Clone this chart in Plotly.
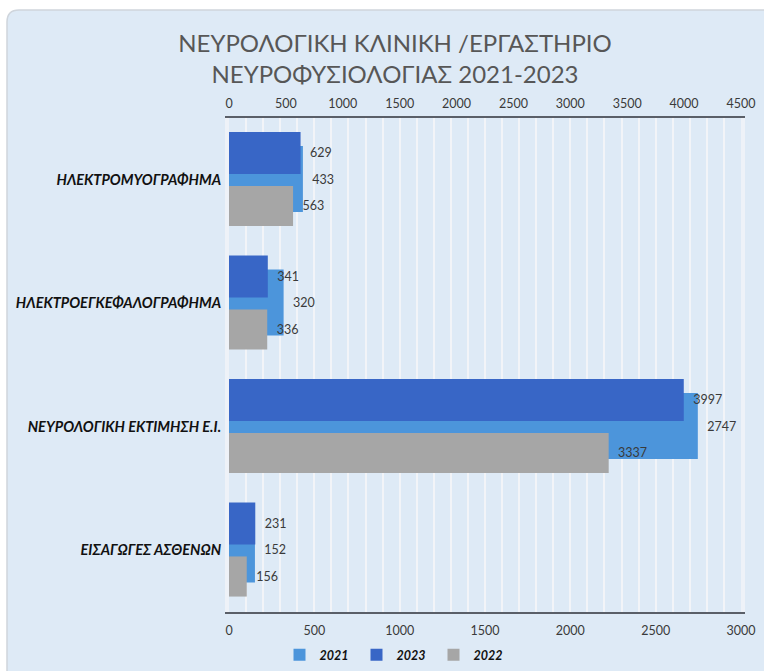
import plotly.graph_objects as go

# categories top -> bottom as in the picture
categories = [
    "ΗΛΕΚΤΡΟΜΥΟΓΡΑΦΗΜΑ",
    "ΗΛΕΚΤΡΟΕΓΚΕΦΑΛΟΓΡΑΦΗΜΑ",
    "ΝΕΥΡΟΛΟΓΙΚΗ ΕΚΤΙΜΗΣΗ Ε.Ι.",
    "ΕΙΣΑΓΩΓΕΣ ΑΣΘΕΝΩΝ",
]
values_2021 = [433, 320, 2747, 152]   # bottom axis (0-3000)
values_2023 = [629, 341, 3997, 231]   # top axis (0-4500)
values_2022 = [563, 336, 3337, 156]   # top axis (0-4500)

bottom_ticks = [0, 500, 1000, 1500, 2000, 2500, 3000]
top_ticks = [0, 500, 1000, 1500, 2000, 2500, 3000, 3500, 4000, 4500]

LIGHT = "#4c95db"
DARK = "#3866c6"
GRAY = "#a6a6a6"
WALL = "#a9b4c6"
PANEL = "#deeaf6"
INK = "#3a3a3a"
FONT = "Lato, 'Open Sans', sans-serif"

W, H = 764, 671
L, R, T, B = 229, 741, 118, 612


def px(x):
    return (x - L) / (R - L)


def py(y):
    return (B - y) / (B - T)


label_font = dict(family=FONT, size=12.5, color=INK)
nb = "\u00a0\u00a0"

fig = go.Figure()
fig.add_trace(go.Bar(
    name="2021", y=categories, x=values_2021, orientation="h",
    xaxis="x", marker=dict(color=LIGHT, line=dict(width=0)),
    width=0.535, offset=-0.262,
    text=values_2021, texttemplate=nb + "%{x}", textposition="outside",
    textfont=label_font, cliponaxis=False,
))
fig.add_trace(go.Bar(
    name="2023", y=categories, x=values_2023, orientation="h",
    xaxis="x2", marker=dict(color=DARK, line=dict(width=0)),
    width=0.34, offset=0.047,
    text=values_2023, texttemplate=nb + "%{x}", textposition="outside",
    textfont=label_font, cliponaxis=False,
))
fig.add_trace(go.Bar(
    name="2022", y=categories, x=values_2022, orientation="h",
    xaxis="x2", marker=dict(color=GRAY, line=dict(width=0)),
    width=0.325, offset=-0.375,
    text=values_2022, texttemplate=nb + "%{x}", textposition="outside",
    textfont=label_font, cliponaxis=False,
))

# rounded light-blue chart panel
x0, x1, y0, y1 = px(7), px(780), py(680), py(10)
rx, ry = 12 / (R - L), 12 / (B - T)
panel = (f"M {x0},{y0} L {x0},{y1 - ry} Q {x0},{y1} {x0 + rx},{y1} "
         f"L {x1},{y1} L {x1},{y0} Z")

fig.update_layout(
    width=W, height=H,
    margin=dict(l=L, r=W - R, t=T, b=H - B, autoexpand=False),
    paper_bgcolor="white",
    plot_bgcolor=WALL,
    barmode="overlay",
    font=dict(family=FONT, color=INK, size=12),
    title=dict(
        text="ΝΕΥΡΟΛΟΓΙΚΗ ΚΛΙΝΙΚΗ /ΕΡΓΑΣΤΗΡΙΟ<br>ΝΕΥΡΟΦΥΣΙΟΛΟΓΙΑΣ 2021-2023",
        x=395 / W, xanchor="center", y=1 - 52 / H, yanchor="middle",
        font=dict(family=FONT, size=24, color="#575757"),
    ),
    xaxis=dict(
        range=[0, 3000], tickvals=bottom_ticks, showgrid=True,
        gridcolor="#f2f4f8", gridwidth=1.5,
        minor=dict(dtick=100, showgrid=True, gridcolor="#f2f4f8", gridwidth=1.5),
        showline=True, linecolor="#5a5f68", linewidth=2,
        ticks="", zeroline=False, ticklabelstandoff=6,
        tickfont=dict(family=FONT, size=12.5, color=INK),
        fixedrange=True,
    ),
    xaxis2=dict(
        range=[0, 4500], tickvals=top_ticks, overlaying="x", side="top",
        showgrid=False, showline=True, linecolor="#5a5f68", linewidth=2,
        ticks="", zeroline=False, ticklabelstandoff=3,
        tickfont=dict(family=FONT, size=12.5, color=INK),
        fixedrange=True,
    ),
    yaxis=dict(
        type="category", categoryorder="array", categoryarray=categories[::-1],
        showgrid=False, showline=True, mirror=True, linecolor="#eef2f8",
        linewidth=4, ticks="", ticklabelstandoff=1,
        tickfont=dict(family=FONT, size=14.5, color="#111111",
                      weight="bold", style="italic"),
        fixedrange=True,
    ),
    legend=dict(
        orientation="h", x=px(395), xanchor="center", y=py(655), yanchor="middle",
        font=dict(family=FONT, size=12.5, color="#111111", weight="bold",
                  style="italic"),
        bgcolor="rgba(0,0,0,0)", itemwidth=30, entrywidth=32, traceorder="normal",
    ),
    shapes=[dict(
        type="path", path=panel, xref="paper", yref="paper",
        fillcolor=PANEL, line=dict(color="#cfd5dc", width=1.5), layer="below",
    )],
    showlegend=True,
)

fig.write_html("out.html", config={"displayModeBar": False},
               post_script="document.body.style.margin='0';")
